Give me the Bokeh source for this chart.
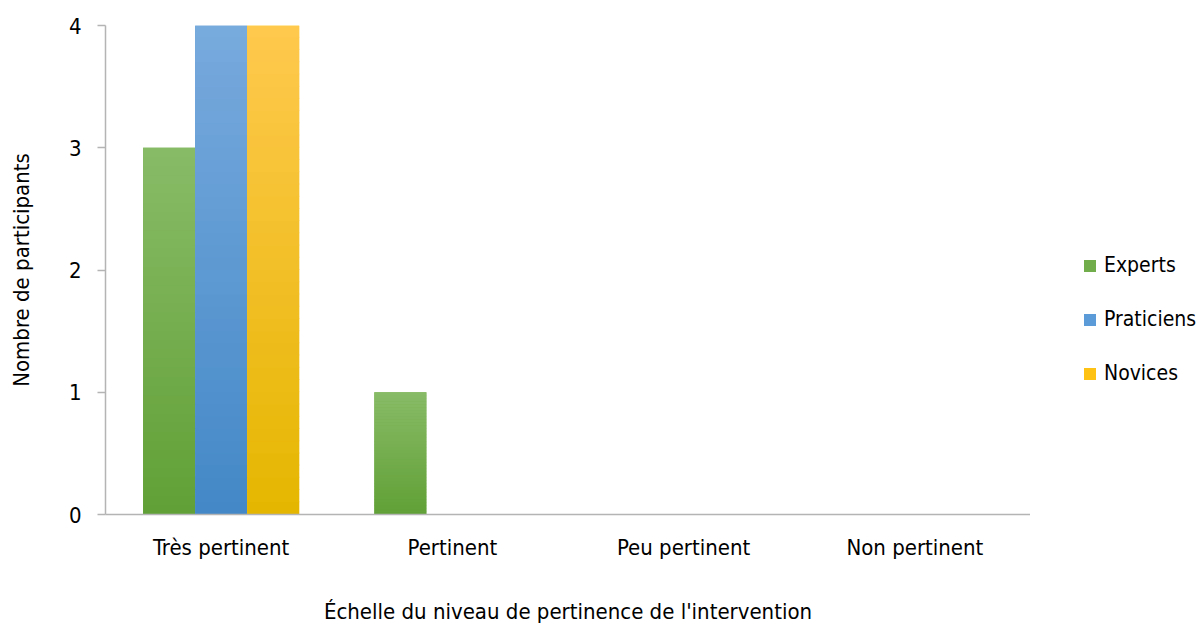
from bokeh.plotting import figure
from bokeh.layouts import row
from bokeh.models import ColumnDataSource, FixedTicker, Legend, LegendItem, FactorRange, Range1d
from bokeh.transform import dodge
from bokeh.embed import file_html
from bokeh.resources import INLINE

categories = ["Très pertinent", "Pertinent", "Peu pertinent", "Non pertinent"]
experts = [3, 1, 0, 0]
praticiens = [4, 0, 0, 0]
novices = [4, 0, 0, 0]
series_names = ["Experts", "Praticiens", "Novices"]
series_values = [experts, praticiens, novices]
colors = ["#72AD4B", "#5B9BD7", "#FEC214"]
# gradient colours (bottom, top) for each series
grad_bottom = ["#61A036", "#4388C7", "#E5B600"]
grad_top = ["#88BB67", "#78AADD", "#FFC94E"]
y_ticks = [0, 1, 2, 3, 4]

FONT = "DejaVu Sans Condensed, Roboto"


def hex2rgb(h):
    h = h.lstrip("#")
    return [int(h[i:i + 2], 16) for i in (0, 2, 4)]


def mix(c0, c1, t):
    a, b = hex2rgb(c0), hex2rgb(c1)
    return "#%02x%02x%02x" % tuple(round(a[i] + (b[i] - a[i]) * t) for i in range(3))


src = ColumnDataSource(dict(cat=categories, Experts=experts, Praticiens=praticiens, Novices=novices))

p = figure(width=1030, height=626, output_backend="svg", toolbar_location=None,
           x_range=FactorRange(*categories, range_padding=0), y_range=Range1d(0, 4),
           min_border_left=105, min_border_right=0, min_border_top=25, min_border_bottom=111)
p.outline_line_color = None
p.xgrid.grid_line_color = None
p.ygrid.grid_line_color = None

bw = 0.225
N = 40
for i, (name, col) in enumerate(zip(series_names, colors)):
    off = (i - 1) * bw
    p.vbar(x=dodge("cat", off, range=p.x_range), top=name, width=bw,
           source=src, fill_color=col, line_color=None)
    # vertical gradient drawn as thin stacked slices of each bar
    cats, bots, tops, fills = [], [], [], []
    for c, v in zip(categories, series_values[i]):
        if v <= 0:
            continue
        for k in range(N):
            cats.append(c)
            bots.append(v * k / N)
            tops.append(min(v * (k + 1) / N + v * 0.002, v))
            fills.append(mix(grad_bottom[i], grad_top[i], (k + 0.5) / N))
    gsrc = ColumnDataSource(dict(cat=cats, bottom=bots, top=tops, fill=fills))
    p.vbar(x=dodge("cat", off, range=p.x_range), bottom="bottom", top="top", width=bw,
           source=gsrc, fill_color="fill", line_color=None)

axis_col = "#B4B4B4"
p.yaxis.ticker = FixedTicker(ticks=y_ticks)
p.yaxis.minor_tick_line_color = None
p.yaxis.major_tick_out = 8
p.yaxis.major_tick_in = 0
p.yaxis.axis_line_color = axis_col
p.yaxis.major_tick_line_color = axis_col
p.yaxis.axis_line_width = 1.5
p.yaxis.major_tick_line_width = 1.5
p.yaxis.major_label_text_font = FONT
p.yaxis.major_label_text_font_size = "22px"
p.yaxis.major_label_text_color = "#000000"
p.yaxis.major_label_standoff = 16
p.yaxis.axis_label = "Nombre de participants"
p.yaxis.axis_label_text_font = FONT
p.yaxis.axis_label_text_font_size = "22px"
p.yaxis.axis_label_text_font_style = "normal"
p.yaxis.axis_label_text_color = "#000000"
p.yaxis.axis_label_standoff = 32

p.xaxis.major_tick_line_color = None
p.xaxis.minor_tick_line_color = None
p.xaxis.axis_line_color = axis_col
p.xaxis.axis_line_width = 1.5
p.xaxis.major_label_text_font = FONT
p.xaxis.major_label_text_font_size = "22px"
p.xaxis.major_label_text_color = "#000000"
p.xaxis.major_label_standoff = 14
p.xaxis.axis_label = "Échelle du niveau de pertinence de l'intervention"
p.xaxis.axis_label_text_font = FONT
p.xaxis.axis_label_text_font_size = "22px"
p.xaxis.axis_label_text_font_style = "normal"
p.xaxis.axis_label_text_color = "#000000"
p.xaxis.axis_label_standoff = 36

# legend panel (separate figure to the right of the plot); its bars use the same data
# with zero width and outside the visible y range, so only their legend swatches show
pl = figure(width=172, height=626, output_backend="svg", toolbar_location=None,
            x_range=FactorRange(*categories), y_range=Range1d(10, 11),
            x_axis_type=None, y_axis_type=None,
            min_border_left=0, min_border_right=0, min_border_top=0, min_border_bottom=0)
pl.outline_line_color = None
pl.xgrid.grid_line_color = None
pl.ygrid.grid_line_color = None
leg_renderers = []
for i, (name, col) in enumerate(zip(series_names, colors)):
    r = pl.vbar(x=dodge("cat", (i - 1) * bw, range=pl.x_range), top=name, width=0,
                source=src, fill_color=col, line_color=None)
    leg_renderers.append(r)

legend = Legend(items=[LegendItem(label=n, renderers=[r]) for n, r in zip(series_names, leg_renderers)],
                location=(52, 129), border_line_color=None, background_fill_alpha=0,
                padding=0, margin=0, spacing=30, glyph_width=15, glyph_height=15,
                label_height=20, label_standoff=7, label_text_font=FONT,
                label_text_font_size="21px", label_text_color="#000000")
pl.add_layout(legend)

layout = row(p, pl)
open("out.html", "w").write(file_html(layout, INLINE))
